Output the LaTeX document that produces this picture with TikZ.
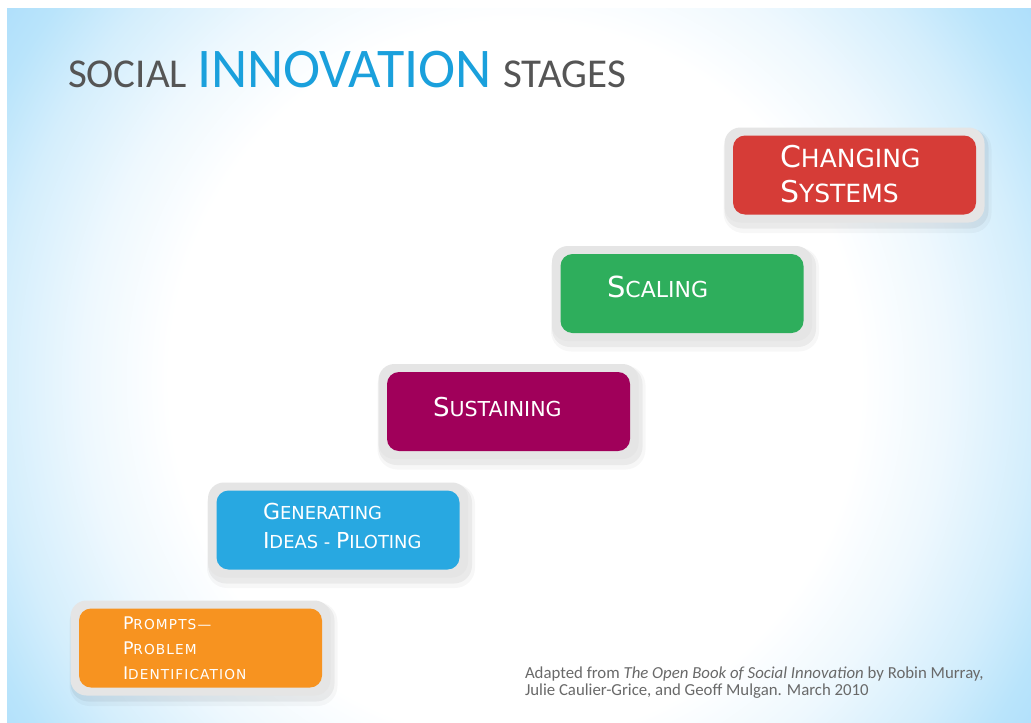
\documentclass[tikz,border=0pt]{standalone}
\usepackage{fontspec}
\setmainfont{Carlito}
\newfontfamily\boxfont{DejaVu Sans}
\newfontfamily\boxfontsp[LetterSpace=8]{DejaVu Sans}
\definecolor{bgA}{RGB}{238,248,254}
\definecolor{bgB}{RGB}{212,238,252}
\definecolor{bgC}{RGB}{185,228,251}
\definecolor{bgD}{RGB}{165,218,250}
\definecolor{rimgray}{RGB}{229,229,229}
\definecolor{cred}{RGB}{214,60,55}
\definecolor{cgreen}{RGB}{46,174,92}
\definecolor{cpurple}{RGB}{160,0,90}
\definecolor{cblue}{RGB}{40,168,225}
\definecolor{corange}{RGB}{247,147,32}
\definecolor{titlegray}{RGB}{85,85,85}
\definecolor{titleblue}{RGB}{26,160,220}
\definecolor{capgray}{RGB}{105,105,105}
\pgfdeclareradialshading{bgshade}{\pgfpointorigin}{color(0bp)=(white); color(16bp)=(white); color(20bp)=(bgA); color(24bp)=(bgB); color(27bp)=(bgC); color(31bp)=(bgD); color(50bp)=(bgD)}
\newcommand\scpair[4]{{\fontsize{#1}{#1}\selectfont #3}{\fontsize{#2}{#2}\selectfont #4}}
\tikzset{
  rim/.style={rectangle, rounded corners=16pt, minimum width=260pt, minimum height=95pt, fill=rimgray, inner sep=0pt, outer sep=0pt},
  shadowbox/.style={rectangle, rounded corners=18pt, minimum width=264pt, minimum height=99pt, fill=black, opacity=0.05, inner sep=0pt},
  stagebox/.style={rectangle, rounded corners=12pt, minimum width=243pt, minimum height=79pt, inner sep=0pt, outer sep=0pt},
  lbl/.style={anchor=base west, inner sep=0pt, outer sep=0pt, text=white, font=\boxfont},
  lblsp/.style={anchor=base west, inner sep=0pt, outer sep=0pt, text=white, font=\boxfontsp},
  ttl/.style={anchor=base west, inner sep=0pt, outer sep=0pt},
  captxt/.style={anchor=base west, inner sep=0pt, outer sep=0pt, text=capgray, font=\fontsize{16.8}{16.8}\selectfont}
}
\newcommand\stage[4]{%
  \node[shadowbox] (#1s1) at (#2+2,#3+4) {};
  \node[shadowbox, minimum width=268pt, minimum height=104pt, rounded corners=20pt, opacity=0.03] (#1s2) at (#2+3,#3+6) {};
  \node[rim] (#1r) at (#2,#3) {};
  \node[stagebox, fill=#4] (#1) at (#2,#3) {};
}
\begin{document}
\begin{tikzpicture}[x=1pt,y=-1pt]
\useasboundingbox (0,0) rectangle (1031,723);
\fill[white] (0,0) rectangle (1031,723);
\begin{scope}
  \clip (7,8) rectangle (1031,723);
  \shade[shading=bgshade] (-25,-180) rectangle (1055,940);
\end{scope}
% title
\node[ttl, text=titlegray, font=\fontsize{41}{41}\selectfont] (t1) at (68,87) {SOCIAL};
\node[ttl, text=titleblue, font=\fontsize{56}{56}\selectfont] (t2) at (197,87) {INNOVATION};
\node[ttl, text=titlegray, font=\fontsize{41}{41}\selectfont] (t3) at (503,87) {STAGES};
% boxes
\stage{b1}{200.5}{648}{corange}
\stage{b2}{338}{530}{cblue}
\stage{b3}{508.5}{411.5}{cpurple}
\stage{b4}{682}{293.5}{cgreen}
\stage{b5}{854.5}{175}{cred}
% labels
\node[lblsp] (l1a) at (123,629) {\scpair{17.4}{13.7}{P}{ROMPTS—}};
\node[lblsp] (l1b) at (123,654) {\scpair{17.4}{13.7}{P}{ROBLEM}};
\node[lblsp] (l1c) at (123,679) {\scpair{17.4}{13.7}{I}{DENTIFICATION}};
\node[lbl] (l2a) at (263,519) {\scpair{22}{17.9}{G}{ENERATING}};
\node[lbl] (l2b) at (263,548) {\scpair{22}{17.9}{I}{DEAS - }\scpair{22}{17.9}{P}{ILOTING}};
\node[lbl] (l3) at (433,416) {\scpair{26}{20.6}{S}{USTAINING}};
\node[lbl] (l4) at (607,297) {\scpair{29}{22}{S}{CALING}};
\node[lbl] (l5a) at (780,167) {\scpair{30}{25}{C}{HANGING}};
\node[lbl] (l5b) at (780,202) {\scpair{30}{25}{S}{YSTEMS}};
% caption
\node[captxt] (c1) at (525,678) {Adapted from \textit{The Open Book of Social Innovation} by Robin Murray,};
\node[captxt] (c2) at (525,695) {Julie Caulier-Grice, and Geoff Mulgan. March 2010};
\end{tikzpicture}
\end{document}
